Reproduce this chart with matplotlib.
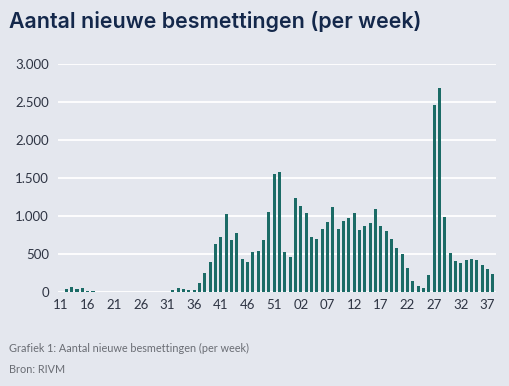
import matplotlib
matplotlib.use("Agg")
import matplotlib.pyplot as plt
from matplotlib.ticker import FuncFormatter

# weeks: 2020 wk 11..53, then 2021 wk 00..38
weeks_2020 = [f"{w:02d}" for w in range(11, 54)]
weeks_2021 = [f"{w:02d}" for w in range(0, 39)]
weeks = weeks_2020 + weeks_2021

cases_2020 = [0, 45, 68, 46, 58, 22, 20,                    # 11-17
              0, 0, 0, 0, 0, 0, 0, 0, 0, 0, 0, 0, 0,        # 18-30
              10, 28, 50, 43, 30, 30,                       # 31-36
              127, 252, 397, 633, 725, 1023, 690, 784,      # 37-44
              440, 400, 530, 541, 690, 1060, 1557, 1579,    # 45-52
              530]                                          # 53
cases_2021 = [465, 1237, 1134, 1038, 730, 704, 835, 927,   # 00-07
              1117, 835, 939, 976, 1044, 820, 871, 917,     # 08-15
              1092, 869, 807, 702, 585, 502, 325, 149,      # 16-23
              88, 53, 228, 2466, 2680, 989, 518, 410,       # 24-31
              386, 421, 443, 419, 358, 300, 241]            # 32-38
cases = cases_2020 + cases_2021

tick_labels = ["11", "16", "21", "26", "31", "36", "41", "46", "51",
               "02", "07", "12", "17", "22", "27", "32", "37"]

bg = "#E4E7EE"
bar_color = "#1B6B66"
text_color = "#2E3443"

W, H = 510, 386
fig = plt.figure(figsize=(W / 100, H / 100), dpi=100, facecolor=bg)

left, right = 58, 496
y0, y3000 = 292.3, 64
ax = fig.add_axes([left / W, 1 - y0 / H, (right - left) / W, (y0 - y3000) / H])
ax.set_facecolor(bg)

x = list(range(len(weeks)))
ax.bar(x, cases, width=0.58, color=bar_color, zorder=3)

ax.set_xlim(-0.56, 81.6)
ax.set_ylim(0, 3000)
ax.set_yticks(range(0, 3001, 500))
ax.yaxis.set_major_formatter(FuncFormatter(lambda v, p: f"{int(v):,}".replace(",", ".")))
# first labels fall in 2020, the rest (from 02) in 2021
split = tick_labels.index("02")
tick_pos = [weeks_2020.index(t) for t in tick_labels[:split]] + \
           [len(weeks_2020) + weeks_2021.index(t) for t in tick_labels[split:]]
ax.set_xticks(tick_pos)
ax.set_xticklabels(tick_labels)

ax.grid(axis="y", color="white", linewidth=1.3, zorder=0)
for s in ax.spines.values():
    s.set_visible(False)
ax.tick_params(length=0, labelsize=9.5, labelcolor=text_color, labelfontfamily="Lato")
ax.tick_params(axis="y", pad=6.5)
ax.tick_params(axis="x", pad=5)

fig.text(9 / W, 1 - 28 / H, "Aantal nieuwe besmettingen (per week)", fontsize=15.4,
         fontweight="semibold", family="Inter", color="#14284B", va="baseline")
fig.text(9 / W, 1 - 352 / H, "Grafiek 1: Aantal nieuwe besmettingen (per week)", fontsize=7.8,
         family="Lato", color="#6A6D74", va="baseline")
fig.text(9 / W, 1 - 373 / H, "Bron: RIVM", fontsize=7.8,
         family="Lato", color="#6A6D74", va="baseline")

fig.savefig("out.png", dpi=100, facecolor=bg)
